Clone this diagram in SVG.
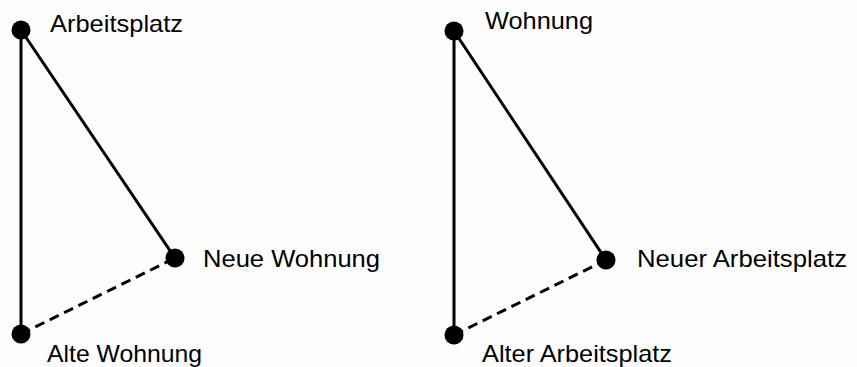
<svg xmlns="http://www.w3.org/2000/svg" width="857" height="367" viewBox="0 0 857 367">
<style>
.bg{fill:#fdfdfd}
.dot{fill:#000}
.solid{stroke:#000;stroke-width:3;fill:none}
.dash{stroke:#000;stroke-width:3;fill:none;stroke-dasharray:10 6}
text{font-family:"Liberation Sans",Arial,sans-serif;font-size:24px;fill:#000}
</style>
<rect class="bg" x="0" y="0" width="857" height="367"/>
<g id="connectors">
<line class="solid" x1="21" y1="30" x2="21" y2="334"/>
<line class="solid" x1="21" y1="30" x2="175" y2="258"/>
<line class="dash" x1="21" y1="334" x2="175" y2="258"/>
<line class="solid" x1="454" y1="31" x2="454" y2="335"/>
<line class="solid" x1="454" y1="31" x2="606" y2="260"/>
<line class="dash" x1="454" y1="335" x2="606" y2="260"/>
</g>
<g id="n-arbeitsplatz"><circle class="dot" cx="21" cy="30" r="9.5"/><text x="50" y="32" textLength="133" lengthAdjust="spacingAndGlyphs">Arbeitsplatz</text></g>
<g id="n-neue-wohnung"><circle class="dot" cx="175" cy="258" r="9.5"/><text x="203" y="267" textLength="177" lengthAdjust="spacingAndGlyphs">Neue Wohnung</text></g>
<g id="n-alte-wohnung"><circle class="dot" cx="21" cy="334" r="9.5"/><text x="47" y="362" textLength="155" lengthAdjust="spacingAndGlyphs">Alte Wohnung</text></g>
<g id="n-wohnung"><circle class="dot" cx="454" cy="31" r="9.5"/><text x="485" y="29" textLength="108" lengthAdjust="spacingAndGlyphs">Wohnung</text></g>
<g id="n-neuer-arbeitsplatz"><circle class="dot" cx="606" cy="260" r="9.5"/><text x="637" y="267" textLength="210" lengthAdjust="spacingAndGlyphs">Neuer Arbeitsplatz</text></g>
<g id="n-alter-arbeitsplatz"><circle class="dot" cx="454" cy="335" r="9.5"/><text x="482" y="362" textLength="190" lengthAdjust="spacingAndGlyphs">Alter Arbeitsplatz</text></g>
</svg>
